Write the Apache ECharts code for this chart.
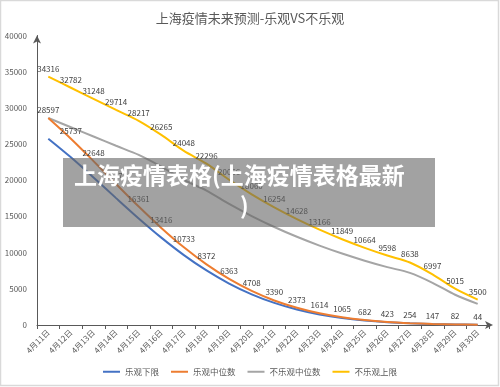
<!DOCTYPE html>
<html>
<head>
<meta charset="utf-8">
<script src="https://cdn.jsdelivr.net/npm/echarts@6/dist/echarts.min.js"></script>
<style>html,body{margin:0;padding:0;background:#fff}#c{width:500px;height:387px}</style>
</head>
<body>
<div id="c"></div>
<script>
const categories = ['4月11日','4月12日','4月13日','4月14日','4月15日','4月16日','4月17日','4月18日','4月19日','4月20日','4月21日','4月22日','4月23日','4月24日','4月25日','4月26日','4月27日','4月28日','4月29日','4月30日'];
const optimisticLow = [25737,23163,20383,17529,14725,12074,9660,7535,5727,4237,3051,2136,1453,959,614,381,229,132,74,40];
const optimisticMid = [28597,25737,22648,19477,16361,13416,10733,8372,6363,4708,3390,2373,1614,1065,682,423,254,147,82,44];
const pessimisticMid = [28597,27318,26040,24762,23514,21888,20040,18580,16722,15050,13545,12190,10972,9874,8887,7998,7198,5831,4179,2917];
const pessimisticHigh = [34316,32782,31248,29714,28217,26265,24048,22296,20066,18060,16254,14628,13166,11849,10664,9598,8638,6997,5015,3500];
const seriesNames = ['乐观下限','乐观中位数','不乐观中位数','不乐观上限'];
const yTicks = {min:0, max:40000, interval:5000};

const chart = echarts.init(document.getElementById('c'));
const font = '"Noto Sans CJK SC","Noto Sans",sans-serif';
function line(name, data, color, labels){
  return {
    name, type:'line', data, smooth:0.3, symbol:'circle', symbolSize:0.1, showSymbol:true,
    lineStyle:{color, width:2}, itemStyle:{color},
    label:{show:labels, position:'top', fontSize:8, color:'#404040', fontFamily:font, distance:4},
    labelLayout:{hideOverlap:false},
    z: labels ? 3 : 2
  };
}
chart.setOption({
  animation:false,
  textStyle:{fontFamily:font},
  title:{text:'上海疫情未来预测-乐观VS不乐观', left:'center', top:7,
    textStyle:{fontSize:13, fontWeight:'normal', color:'#595959', fontFamily:font}},
  grid:{left:37, right:11, top:35.5, bottom:62, containLabel:false},
  legend:{bottom:6, left:'center', icon:'rect', itemWidth:17, itemHeight:2, itemGap:12,
    textStyle:{fontSize:8.5, color:'#595959', fontFamily:font}, data:seriesNames},
  xAxis:{type:'category', data:categories, boundaryGap:true,
    axisLine:{show:true, lineStyle:{color:'#595959', width:1}, symbol:['none','arrow'], symbolSize:[6,8], symbolOffset:[0,4]},
    axisTick:{show:true, length:4, lineStyle:{color:'#595959'}},
    axisLabel:{rotate:45, fontSize:8, color:'#595959', margin:6, interval:0, fontFamily:font},
    splitLine:{show:false}},
  yAxis:{type:'value', min:yTicks.min, max:yTicks.max, interval:yTicks.interval,
    axisLine:{show:true, lineStyle:{color:'#595959', width:1}, symbol:['none','arrow'], symbolSize:[6,8]},
    axisTick:{show:false},
    axisLabel:{fontSize:8, color:'#595959', margin:10, fontFamily:font, formatter:v => String(v)},
    splitLine:{show:false}},
  series:[
    line(seriesNames[0], optimisticLow, '#4472C4', false),
    line(seriesNames[1], optimisticMid, '#ED7D31', true),
    line(seriesNames[2], pessimisticMid, '#A5A5A5', false),
    line(seriesNames[3], pessimisticHigh, '#FFC000', true)
  ],
  graphic:[
    {type:'rect', shape:{x:0.5,y:0.5,width:498,height:385}, style:{fill:'none', stroke:'#d9d9d9', lineWidth:1.5}, z:1, silent:true},
    {type:'rect', shape:{x:63,y:158,width:372,height:69}, style:{fill:'rgba(100,100,100,0.6)'}, z:100, silent:true},
    {type:'text', left:74, top:164, z:101, silent:true,
      style:{text:'上海疫情表格(上海疫情表格最新', fill:'#fff', font:'bold 23px "Noto Sans CJK SC", sans-serif'}},
    {type:'text', left:240, top:194, z:101, silent:true,
      style:{text:')', fill:'#fff', font:'bold 23px "Noto Sans CJK SC", sans-serif'}}
  ]
});
</script>
</body>
</html>
